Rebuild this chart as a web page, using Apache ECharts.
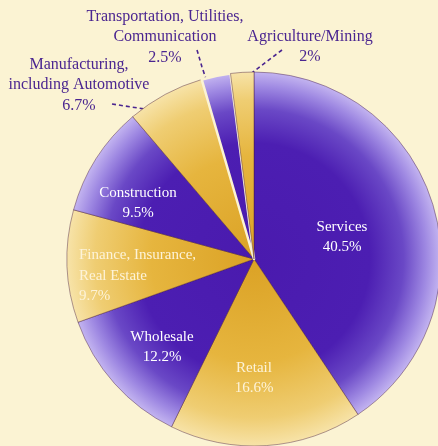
<!DOCTYPE html>
<html>
<head>
<meta charset="utf-8">
<script src="https://cdn.jsdelivr.net/npm/echarts@6/dist/echarts.min.js"></script>
<style>
html,body{margin:0;padding:0;background:#fbf3d3;}
#c{width:438px;height:446px;}
</style>
</head>
<body>
<div id="c"></div>
<script>
const categories = ['Services', 'Retail', 'Wholesale', 'Finance, Insurance,\nReal Estate', 'Construction', 'Manufacturing,\nincluding Automotive', 'Transportation, Utilities,\nCommunication', 'Agriculture/Mining'];
const shares = [40.5, 16.6, 12.2, 9.7, 9.5, 6.7, 2.5, 2];
const tones = ['purple', 'yellow', 'purple', 'yellow', 'purple', 'yellow', 'purple', 'yellow'];

const CX = 254, CY = 259, R = 187;
const purpleFill = {type:'radial', x:CX, y:CY, r:R, global:true, colorStops:[
  {offset:0, color:'#4a1aae'}, {offset:0.62, color:'#4c1eb2'}, {offset:0.8, color:'#6a48c6'}, {offset:0.92, color:'#9e88e2'}, {offset:1, color:'#c3b4f0'}]};
const yellowFill = {type:'radial', x:CX, y:CY, r:R, global:true, colorStops:[
  {offset:0, color:'#dba225'}, {offset:0.55, color:'#e6b53e'}, {offset:0.85, color:'#efcd72'}, {offset:1, color:'#f7e3a8'}]};

// label placement (text block centres) and leader lines
const labelPlace = {
  0: {x:342, y:237, align:'center'},
  1: {x:254, y:378, align:'center'},
  2: {x:162, y:347, align:'center'},
  3: {x:79, y:276, align:'left'},
  4: {x:138, y:203, align:'center'},
  5: {x:79, y:85, align:'center', line:[[112,104],[138,108],[163,112]]},
  6: {x:165, y:37, align:'center', line:[[197,50],[202,67],[208,85]]},
  7: {x:310, y:47, align:'center', line:[[282,50],[261,66],[240,82]]}
};
const outside = [5, 6, 7];

const data = categories.map((name, i) => {
  const isOut = outside.indexOf(i) >= 0;
  const item = {
    name: name,
    value: shares[i],
    itemStyle: {color: tones[i] === 'purple' ? purpleFill : yellowFill},
    label: {
      show: true,
      position: isOut ? 'outside' : 'inside',
      color: isOut ? '#4a2590' : (tones[i] === 'yellow' ? '#fdf3d8' : '#ffffff'),
      fontSize: isOut ? 16 : 15,
      lineHeight: 20.5,
      fontFamily: 'Liberation Serif',
      overflow: 'none',
      width: 220,
      align: labelPlace[i].align
    },
    labelLine: {show: isOut, lineStyle: {color:'#4a2590', type:[4,3], width:1.6}}
  };
  if (i === 6) { item.itemStyle.borderColor = '#fbf3d3'; item.itemStyle.borderWidth = 2.5; }
  return item;
});

const chart = echarts.init(document.getElementById('c'), null, {renderer:'canvas'});
chart.setOption({
  backgroundColor: '#fbf3d3',
  animation: false,
  series: [{
    type: 'pie',
    center: [CX, CY],
    radius: [0, R],
    startAngle: 90,
    clockwise: true,
    avoidLabelOverlap: false,
    itemStyle: {borderColor:'rgba(70,25,60,0.55)', borderWidth:0.8},
    label: {formatter: p => p.name + '\n' + p.value + '%', overflow: 'none'},
    labelLayout: function (params) {
      const p = labelPlace[params.dataIndex];
      const r = {x: p.x, y: p.y, align: p.align, verticalAlign: 'middle'};
      if (p.line) r.labelLinePoints = p.line;
      return r;
    },
    data: data
  }]
});
</script>
</body>
</html>
